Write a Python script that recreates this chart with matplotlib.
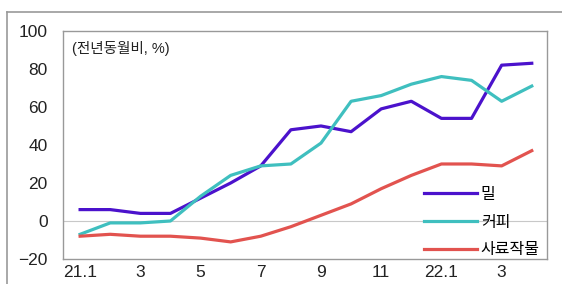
import matplotlib.pyplot as plt
from matplotlib.lines import Line2D

# 데이터 (전년동월비, %)
months = ["21.1", "2", "3", "4", "5", "6", "7", "8", "9", "10", "11", "12",
          "22.1", "2", "3", "4"]
wheat = [6, 6, 4, 4, 12, 20, 29, 48, 50, 47, 59, 63, 54, 54, 82, 83]
coffee = [-7, -1, -1, 0, 13, 24, 29, 30, 41, 63, 66, 72, 76, 74, 63, 71]
feed = [-8, -7, -8, -8, -9, -11, -8, -3, 3, 9, 17, 24, 30, 30, 29, 37]
tick_idx = [0, 2, 4, 6, 8, 10, 12, 14]
tick_labels = ["21.1", "3", "5", "7", "9", "11", "22.1", "3"]

plt.rcParams['font.family'] = ['Liberation Sans', 'Noto Sans CJK KR']

fig = plt.figure(figsize=(5.62, 2.84), dpi=100)
ax = fig.add_axes([0.112, 0.088, 0.861, 0.803])

x = list(range(len(months)))
ax.plot(x, wheat, color='#4B12CC', lw=2.3, label='밀')
ax.plot(x, coffee, color='#3FBFBF', lw=2.3, label='커피')
ax.plot(x, feed, color='#E2534F', lw=2.3, label='사료작물')
ax.axhline(0, color='#c8c8c8', lw=0.8, zorder=0)

ax.set_xlim(-0.57, 15.5)
ax.set_ylim(-20, 100)
ax.set_yticks(range(-20, 101, 20))
ax.set_xticks(tick_idx)
ax.set_xticklabels(tick_labels)
ax.tick_params(length=0, labelsize=12.5, colors='#222222')
ax.tick_params(axis='y', pad=11)
ax.tick_params(axis='x', pad=4)
for s in ax.spines.values():
    s.set_color('#999999')
    s.set_linewidth(1.0)

ax.text(0.018, 0.955, "(전년동월비, %)", transform=ax.transAxes,
        fontsize=10.5, va='top', ha='left', color='#222222')

ax.legend(loc='lower right', bbox_to_anchor=(1.005, -0.035), frameon=False,
          fontsize=11.5, handlelength=3.3, handletextpad=0.25,
          labelspacing=0.8, borderaxespad=0.2)

# 바깥 테두리
fig.add_artist(Line2D([0.0125, 0.0125], [0.0, 0.958], color='#999999', lw=1.2))
fig.add_artist(Line2D([0.0125, 1.0], [0.958, 0.958], color='#999999', lw=1.2))

fig.savefig('out.png', dpi=100)
